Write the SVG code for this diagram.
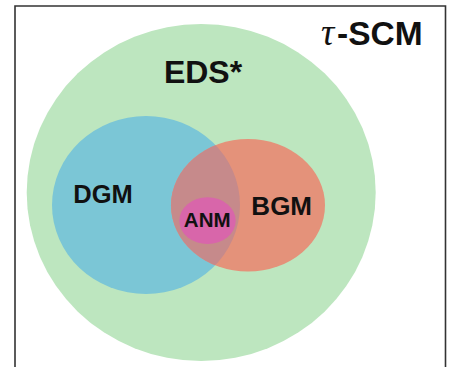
<svg xmlns="http://www.w3.org/2000/svg" width="449" height="367" viewBox="0 0 449 367">
<defs>
<style>
.lbl{font-family:"Liberation Sans",Arial,sans-serif;font-weight:bold;fill:#111;text-anchor:middle}
</style>
<clipPath id="blueClip"><ellipse cx="146" cy="205" rx="94" ry="89"/></clipPath>
</defs>
<rect width="449" height="367" fill="#fff"/>
<path d="M15,380 V6 H445.5 V380" fill="none" stroke="#333" stroke-width="1.6"/>
<g id="tau-scm">
<text x="321" y="45" font-family="'Liberation Serif',serif" font-style="italic" font-size="37" fill="#111">τ</text>
<text x="337" y="45" class="lbl" style="text-anchor:start" font-size="33.5">-SCM</text>
</g>
<g id="eds">
<ellipse cx="201.2" cy="192.5" rx="174.5" ry="168.5" fill="#bde6bf"/>
<text x="203" y="82.5" class="lbl" font-size="32">EDS*</text>
</g>
<g id="dgm">
<ellipse cx="146" cy="205" rx="94" ry="89" fill="#7bc6d6"/>
<text x="103" y="202.5" class="lbl" font-size="25.5">DGM</text>
</g>
<g id="bgm">
<ellipse cx="248" cy="205.3" rx="77" ry="66.3" fill="#e4927a"/>
<ellipse cx="248" cy="205.3" rx="77" ry="66.3" fill="#c68a8b" clip-path="url(#blueClip)"/>
<text x="281.7" y="215" class="lbl" font-size="26">BGM</text>
</g>
<g id="anm">
<ellipse cx="207.5" cy="220.7" rx="28.2" ry="23.4" fill="#d866aa"/>
<text x="207.2" y="227" class="lbl" font-size="20.5">ANM</text>
</g>
<g id="connectors"/>
</svg>
